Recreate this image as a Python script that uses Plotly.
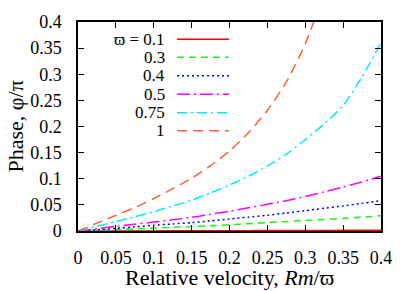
import plotly.graph_objects as go

# x grid (relative velocity Rm/varpi)
x_vals = [0, 0.025, 0.05, 0.075, 0.1, 0.125, 0.15, 0.175, 0.2, 0.225, 0.25, 0.275, 0.3, 0.325, 0.35, 0.375, 0.4]

# phase / pi for each varpi
phase_01 = [0, 0.0001, 0.0001, 0.0002, 0.0002, 0.0003, 0.0004, 0.0005, 0.0006, 0.0007, 0.0008, 0.0009, 0.001, 0.0011, 0.0012, 0.0014, 0.0015]
phase_03 = [0, 0.0015, 0.003, 0.004, 0.0055, 0.007, 0.0085, 0.010, 0.012, 0.014, 0.016, 0.018, 0.020, 0.022, 0.024, 0.0265, 0.029]
phase_04 = [0, 0.0025, 0.005, 0.008, 0.011, 0.0135, 0.016, 0.0195, 0.023, 0.0265, 0.030, 0.0345, 0.039, 0.0435, 0.048, 0.053, 0.058]
phase_05 = [0, 0.0045, 0.009, 0.013, 0.017, 0.0215, 0.026, 0.032, 0.038, 0.0445, 0.051, 0.058, 0.066, 0.075, 0.084, 0.094, 0.105]
phase_075 = [0, 0.009, 0.018, 0.027, 0.037, 0.048, 0.059, 0.073, 0.088, 0.105, 0.124, 0.147, 0.175, 0.205, 0.240, 0.295, 0.360]
phase_1 = [0, 0.015, 0.030, 0.045, 0.062, 0.081, 0.101, 0.125, 0.153, 0.188, 0.231, 0.285, 0.358, 0.455, 0.56, 0.68, 0.82]

series_labels = ["ϖ = 0.1", "0.3", "0.4", "0.5", "0.75", "1"]
series_values = [phase_01, phase_03, phase_04, phase_05, phase_075, phase_1]
series_colors = ["#ff0000", "#22ee22", "#0000ff", "#ff00ff", "#00f0f0", "#ff6030"]
series_dashes = ["solid", "7px,5px", "2px,3px", "13px,4px,2px,4px", "10px,4px,2px,4px", "10px,6px"]

x_ticks = [0, 0.05, 0.1, 0.15, 0.2, 0.25, 0.3, 0.35, 0.4]
y_ticks = [0, 0.05, 0.1, 0.15, 0.2, 0.25, 0.3, 0.35, 0.4]
x_title = "Relative velocity, <i>Rm</i>/ϖ"
y_title = "Phase, φ/π"

FONT = "Liberation Serif"

fig = go.Figure()
for lab, vals, col, dash in zip(series_labels, series_values, series_colors, series_dashes):
    fig.add_trace(go.Scatter(
        x=x_vals, y=vals, mode="lines", name=lab,
        line=dict(color=col, width=1.5, dash=dash, shape="spline", smoothing=0.6),
        showlegend=False,
    ))

# custom legend: right-aligned text, line sample to the right
row_py = [39.3, 57.3, 75.7, 94.3, 112.7, 130.7]
pl, pr, pt, pb = 78, 381, 22, 231
W, H = pr - pl, pb - pt
shapes = []
annotations = []
for lab, col, dash, py in zip(series_labels, series_colors, series_dashes, row_py):
    yp = (pb - py) / H
    shapes.append(dict(type="line", xref="paper", yref="paper",
                       x0=(177 - pl) / W, x1=(229 - pl) / W, y0=yp, y1=yp,
                       line=dict(color=col, width=1.5, dash=dash)))
    annotations.append(dict(text=lab, xref="paper", yref="paper",
                            x=(167 - pl) / W, y=yp, xanchor="right", yanchor="middle",
                            showarrow=False, font=dict(family=FONT, size=17, color="black")))

# axis titles
annotations.append(dict(text=x_title, xref="paper", yref="paper", x=0.5, y=(pb - 277) / H,
                        xanchor="center", yanchor="middle", showarrow=False,
                        font=dict(family=FONT, size=22, color="black")))
annotations.append(dict(text=y_title, xref="paper", yref="paper", x=(15 - pl) / W, y=0.5,
                        xanchor="center", yanchor="middle", showarrow=False, textangle=-90,
                        font=dict(family=FONT, size=22, color="black")))

axis_common = dict(
    showline=True, linecolor="black", linewidth=1.5, mirror="ticks",
    ticks="inside", ticklen=6, tickwidth=1.2, tickcolor="black",
    showgrid=False, zeroline=False, automargin=False,
    tickfont=dict(family=FONT, size=18, color="black"),
)

fig.update_layout(
    width=415, height=291,
    margin=dict(l=pl, r=415 - pr, t=pt, b=291 - pb),
    paper_bgcolor="white", plot_bgcolor="white",
    shapes=shapes, annotations=annotations,
    xaxis=dict(range=[0, 0.4], tickvals=x_ticks, ticktext=[f"{v:g}" for v in x_ticks],
               ticklabelstandoff=10, **axis_common),
    yaxis=dict(range=[0, 0.4], tickvals=y_ticks, ticktext=[f"{v:g}" for v in y_ticks],
               ticklabelstandoff=11, **axis_common),
)

fig.write_html("out.html", config={"displayModeBar": False},
               post_script="document.body.style.margin='0px';")
